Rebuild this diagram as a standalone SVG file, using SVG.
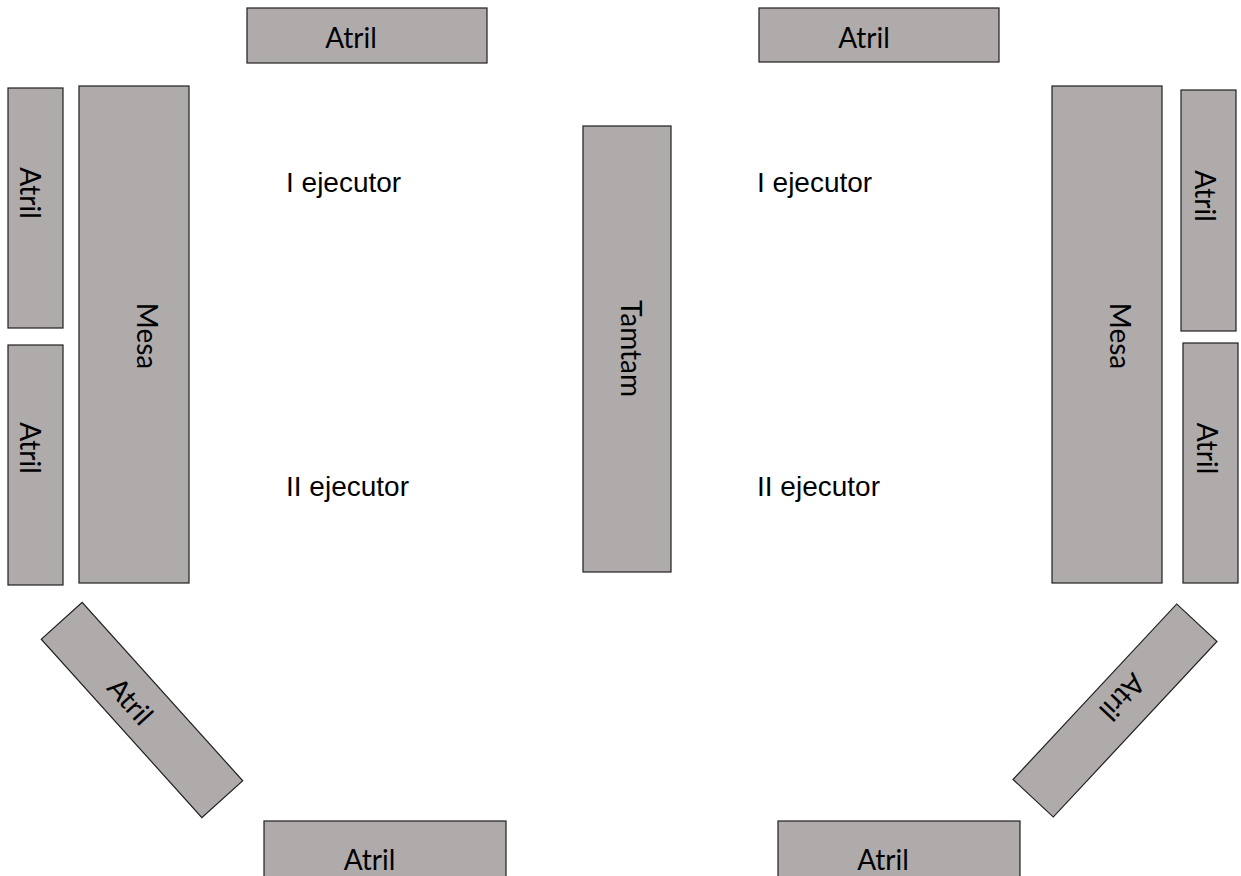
<svg xmlns="http://www.w3.org/2000/svg" width="1241" height="876" viewBox="0 0 1241 876">
<style>
.box{fill:#AFABAB;stroke:#1f1f1f;stroke-width:1.2}
.lbl{font-family:Lato,"Open Sans",sans-serif;font-size:28px;fill:#000;text-anchor:middle}
.txt{font-family:"Liberation Sans",Arial,sans-serif;font-size:28px;fill:#000}
</style>
<rect width="1241" height="876" fill="#fff"/>
<g id="atril-top-left"><rect class="box" x="247" y="8" width="240" height="55"/><text class="lbl" x="351" y="48">Atril</text></g>
<g id="atril-top-right"><rect class="box" x="759" y="8" width="240" height="54"/><text class="lbl" x="864" y="48">Atril</text></g>
<g id="atril-left-1"><rect class="box" x="8" y="88" width="55" height="240"/><text class="lbl" transform="translate(20,193) rotate(90)">Atril</text></g>
<g id="atril-left-2"><rect class="box" x="8" y="345" width="55" height="240"/><text class="lbl" transform="translate(20,448) rotate(90)">Atril</text></g>
<g id="mesa-left"><rect class="box" x="79" y="86" width="110" height="497"/><text class="lbl" transform="translate(137,336) rotate(90)">Mesa</text></g>
<g id="tamtam"><rect class="box" x="583" y="126" width="88" height="446"/><text class="lbl" transform="translate(621,348.5) rotate(90)">Tamtam</text></g>
<g id="mesa-right"><rect class="box" x="1052" y="86" width="110" height="497"/><text class="lbl" transform="translate(1110,336) rotate(90)">Mesa</text></g>
<g id="atril-right-1"><rect class="box" x="1181" y="90" width="55" height="241"/><text class="lbl" transform="translate(1195,196) rotate(90)">Atril</text></g>
<g id="atril-right-2"><rect class="box" x="1183" y="343" width="55" height="240"/><text class="lbl" transform="translate(1197,448.5) rotate(90)">Atril</text></g>
<g id="atril-diag-left"><rect class="box" x="-120" y="-27.5" width="240" height="55" transform="translate(142,710) rotate(48)"/><text class="lbl" transform="translate(123,708) rotate(48)">Atril</text></g>
<g id="atril-diag-right"><rect class="box" x="-120" y="-27.5" width="240" height="55" transform="translate(1115,710.5) rotate(-47)"/><text class="lbl" transform="translate(1115,690.5) rotate(133)">Atril</text></g>
<g id="atril-bottom-left"><rect class="box" x="264" y="821" width="242" height="60"/><text class="lbl" x="369.5" y="870">Atril</text></g>
<g id="atril-bottom-right"><rect class="box" x="778" y="821" width="242" height="60"/><text class="lbl" x="883" y="870">Atril</text></g>
<g id="ejecutor-1-left"><text class="txt" x="286" y="192">I ejecutor</text></g>
<g id="ejecutor-2-left"><text class="txt" x="286" y="496">II ejecutor</text></g>
<g id="ejecutor-1-right"><text class="txt" x="757" y="192">I ejecutor</text></g>
<g id="ejecutor-2-right"><text class="txt" x="757" y="496">II ejecutor</text></g>
<g id="connectors"/>
</svg>
